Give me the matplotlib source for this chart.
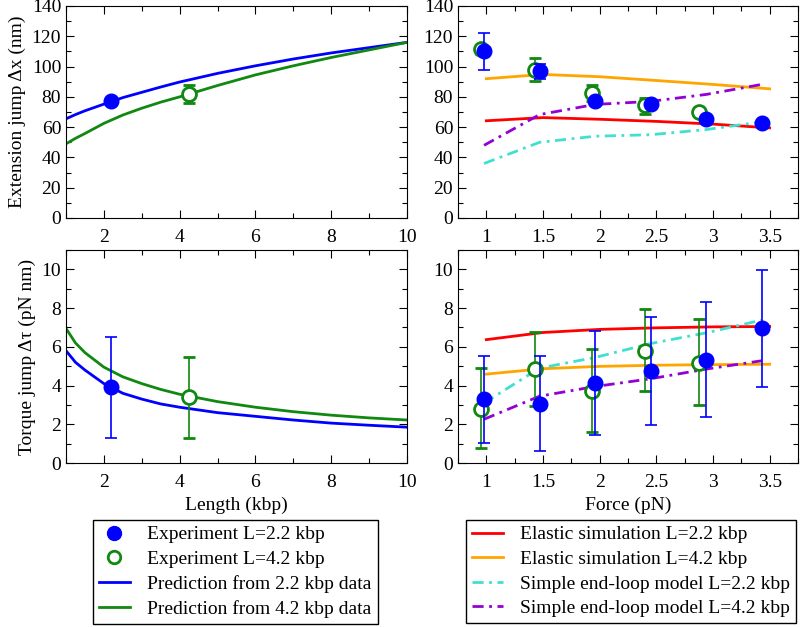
import numpy as np
import matplotlib
matplotlib.use("Agg")
import matplotlib.pyplot as plt
from matplotlib.lines import Line2D
from matplotlib.ticker import MultipleLocator

plt.rcParams['font.family'] = ['Liberation Serif', 'DejaVu Serif']
plt.rcParams['font.size'] = 14

# ---- Length panels (left) ----
len_exp_22 = 2.2
len_exp_42 = 4.25
dx_exp_22 = 77
dx_exp_42 = 82
dx_err_42 = 6
tau_exp_22 = 3.9
tau_exp_42 = 3.4
tau_err_22 = (2.6, 2.6)
tau_err_42 = (2.1, 2.1)

len_grid = [1, 1.25, 1.5, 2, 2.5, 3, 3.5, 4, 5, 6, 7, 8, 9, 10]
dx_pred_22 = [65.5, 68.3, 70.8, 75.2, 79.5, 83, 86.5, 89.8, 95.5, 100.5, 105, 109, 112.5, 116]
dx_pred_42 = [49, 52.6, 55.8, 62.5, 68, 72.5, 76.5, 80, 87.5, 94.5, 100.5, 106, 111, 116]
tau_pred_22 = [5.8, 5.2, 4.8, 4.1, 3.6, 3.3, 3.05, 2.88, 2.6, 2.41, 2.22, 2.06, 1.95, 1.85]
tau_pred_42 = [6.95, 6.2, 5.7, 4.95, 4.45, 4.1, 3.8, 3.55, 3.17, 2.88, 2.65, 2.47, 2.33, 2.22]

# ---- Force panels (right) ----
force_22 = [0.98, 1.47, 1.96, 2.45, 2.94, 3.43]
force_42 = [0.95, 1.43, 1.93, 2.40, 2.88]
dx_f_22 = [110, 97, 77, 75, 65.5, 63]
dx_f_22_lo = [12, 5, 2, 2, 2, 2]
dx_f_22_hi = [12, 5, 2, 2, 2, 2]
dx_f_42 = [111.5, 98, 82.5, 74.5, 70]
dx_f_42_lo = [3, 7.5, 5, 6, 2]
dx_f_42_hi = [3, 7.5, 5.5, 4.5, 2]

tau_f_22 = [3.28, 3.07, 4.14, 4.74, 5.34, 6.95]
tau_f_22_lo = [2.23, 2.45, 2.67, 2.79, 2.96, 3.05]
tau_f_22_hi = [2.27, 2.45, 2.66, 2.81, 2.96, 3.02]
tau_f_42 = [2.8, 4.84, 3.72, 5.79, 5.19]
tau_f_42_lo = [2.02, 1.9, 2.12, 2.09, 2.17]
tau_f_42_hi = [2.11, 1.9, 2.19, 2.14, 2.26]

force_sim = [1.0, 1.5, 2.0, 2.5, 3.0, 3.5]
dx_el_22 = [64.2, 66.3, 65.2, 63.8, 62, 59.5]
dx_el_42 = [92, 94.8, 93.3, 90.8, 88.2, 85.3]
tau_el_22 = [6.37, 6.74, 6.9, 6.98, 7.03, 7.05]
tau_el_42 = [4.59, 4.87, 4.99, 5.05, 5.08, 5.1]

dx_loop_22 = [36, 50, 54, 55, 58.4, 63.5]
dx_loop_42 = [48, 68.3, 75, 77, 81.6, 88.2]
tau_loop_22 = [3.1, 4.9, 5.45, 6.17, 6.72, 7.38]
tau_loop_42 = [2.26, 3.45, 3.95, 4.35, 4.85, 5.28]

blue = '#0000ff'
green = '#118811'
red = '#ff0000'
orange = '#ffa500'
cyan = '#40e0d0'
purple = '#9400d3'
dashdot = (0, (4, 2, 1, 2))

fig = plt.figure(figsize=(8, 6.27), dpi=100)
W, H = 800, 627


def box(x0, y0, x1, y1):
    return [x0 / W, 1 - y1 / H, (x1 - x0) / W, (y1 - y0) / H]


ax_tl = fig.add_axes(box(66, 6, 407, 218))
ax_tr = fig.add_axes(box(458, 6, 798, 218))
ax_bl = fig.add_axes(box(66, 250, 407, 463))
ax_br = fig.add_axes(box(458, 250, 798, 463))

for ax in (ax_tl, ax_tr, ax_bl, ax_br):
    ax.tick_params(which='both', direction='in', top=True, right=True, labelsize=14)
    ax.tick_params(which='major', length=6, width=0.8)
    ax.tick_params(which='minor', length=3.5, width=0.8)
    ax.tick_params(axis='x', pad=8)

fill_kw = dict(marker='o', ms=10.5, color=blue, mec=blue, ls='none')
open_kw = dict(marker='o', ms=10, mfc='white', mec=green, mew=2, ls='none')
err_kw = dict(elinewidth=1.2, capsize=4, capthick=1.2)

# top-left
ax_tl.plot(len_grid, dx_pred_22, color=blue, lw=2)
ax_tl.plot(len_grid, dx_pred_42, color=green, lw=2)
ax_tl.errorbar(len_exp_42, dx_exp_42, yerr=dx_err_42, ecolor=green, zorder=4, **err_kw, **open_kw)
ax_tl.plot(len_exp_22, dx_exp_22, zorder=5, **fill_kw)
ax_tl.set_xlim(1, 10)
ax_tl.set_ylim(0, 140)
ax_tl.xaxis.set_major_locator(MultipleLocator(2))
ax_tl.xaxis.set_minor_locator(MultipleLocator(1))
ax_tl.yaxis.set_major_locator(MultipleLocator(20))
ax_tl.yaxis.set_minor_locator(MultipleLocator(10))
ax_tl.set_ylabel('Extension jump Δx (nm)')

# bottom-left
ax_bl.plot(len_grid, tau_pred_22, color=blue, lw=2)
ax_bl.plot(len_grid, tau_pred_42, color=green, lw=2)
ax_bl.errorbar(len_exp_42, tau_exp_42, yerr=[[tau_err_42[0]], [tau_err_42[1]]], ecolor=green,
               zorder=4, **err_kw, **open_kw)
ax_bl.errorbar(len_exp_22, tau_exp_22, yerr=[[tau_err_22[0]], [tau_err_22[1]]], ecolor=blue,
               zorder=5, **err_kw, **fill_kw)
ax_bl.set_xlim(1, 10)
ax_bl.set_ylim(0, 11)
ax_bl.xaxis.set_major_locator(MultipleLocator(2))
ax_bl.xaxis.set_minor_locator(MultipleLocator(1))
ax_bl.yaxis.set_major_locator(MultipleLocator(2))
ax_bl.yaxis.set_minor_locator(MultipleLocator(1))
ax_bl.set_ylabel('Torque jump Δτ (pN nm)')
ax_bl.set_xlabel('Length (kbp)')

# top-right
ax_tr.plot(force_sim, dx_el_42, color=orange, lw=2)
ax_tr.plot(force_sim, dx_el_22, color=red, lw=2)
ax_tr.plot(force_22, dx_loop_22, color=cyan, lw=2, ls=dashdot)
ax_tr.plot(force_22, dx_loop_42, color=purple, lw=2, ls=dashdot)
ax_tr.errorbar(force_42, dx_f_42, yerr=[dx_f_42_lo, dx_f_42_hi], ecolor=green, zorder=4,
               **err_kw, **open_kw)
ax_tr.errorbar(force_22, dx_f_22, yerr=[dx_f_22_lo, dx_f_22_hi], ecolor=blue, zorder=5,
               **err_kw, **fill_kw)
ax_tr.set_xlim(0.75, 3.75)
ax_tr.set_ylim(0, 140)
ax_tr.xaxis.set_major_locator(MultipleLocator(0.5))
ax_tr.xaxis.set_minor_locator(MultipleLocator(0.25))
ax_tr.yaxis.set_major_locator(MultipleLocator(20))
ax_tr.yaxis.set_minor_locator(MultipleLocator(10))
ax_tr.xaxis.set_major_formatter(plt.FuncFormatter(lambda v, p: f'{v:g}'))

# bottom-right
ax_br.plot(force_sim, tau_el_22, color=red, lw=2)
ax_br.plot(force_sim, tau_el_42, color=orange, lw=2)
ax_br.plot(force_22, tau_loop_22, color=cyan, lw=2, ls=dashdot)
ax_br.plot(force_22, tau_loop_42, color=purple, lw=2, ls=dashdot)
ax_br.errorbar(force_42, tau_f_42, yerr=[tau_f_42_lo, tau_f_42_hi], ecolor=green, zorder=4,
               **err_kw, **open_kw)
ax_br.errorbar(force_22, tau_f_22, yerr=[tau_f_22_lo, tau_f_22_hi], ecolor=blue, zorder=5,
               **err_kw, **fill_kw)
ax_br.set_xlim(0.75, 3.75)
ax_br.set_ylim(0, 11)
ax_br.xaxis.set_major_locator(MultipleLocator(0.5))
ax_br.xaxis.set_minor_locator(MultipleLocator(0.25))
ax_br.yaxis.set_major_locator(MultipleLocator(2))
ax_br.yaxis.set_minor_locator(MultipleLocator(1))
ax_br.xaxis.set_major_formatter(plt.FuncFormatter(lambda v, p: f'{v:g}'))
ax_br.set_xlabel('Force (pN)')

fig.align_ylabels([ax_tl, ax_bl])

# legends
left_handles = [
    Line2D([], [], marker='o', ms=10, color=blue, ls='none'),
    Line2D([], [], marker='o', ms=9, mfc='white', mec=green, mew=2, ls='none'),
    Line2D([], [], color=blue, lw=2),
    Line2D([], [], color=green, lw=2),
]
left_labels = ['Experiment L=2.2 kbp', 'Experiment L=4.2 kbp',
               'Prediction from 2.2 kbp data', 'Prediction from 4.2 kbp data']
right_handles = [
    Line2D([], [], color=red, lw=2),
    Line2D([], [], color=orange, lw=2),
    Line2D([], [], color=cyan, lw=2, ls=dashdot),
    Line2D([], [], color=purple, lw=2, ls=dashdot),
]
right_labels = ['Elastic simulation L=2.2 kbp', 'Elastic simulation L=4.2 kbp',
                'Simple end-loop model L=2.2 kbp', 'Simple end-loop model L=4.2 kbp']

leg_kw = dict(loc='upper left', fontsize=14, fancybox=False, framealpha=1,
              edgecolor='black', handlelength=1.6, handletextpad=0.9,
              labelspacing=0.36, borderpad=0.3, borderaxespad=0)
lg1 = fig.legend(left_handles, left_labels, bbox_to_anchor=(93 / W, 1 - 520 / H), **leg_kw)
lg2 = fig.legend(right_handles, right_labels, bbox_to_anchor=(466 / W, 1 - 520 / H), **leg_kw)
for lg in (lg1, lg2):
    lg.get_frame().set_linewidth(1.0)

fig.savefig('out.png', dpi=100)
